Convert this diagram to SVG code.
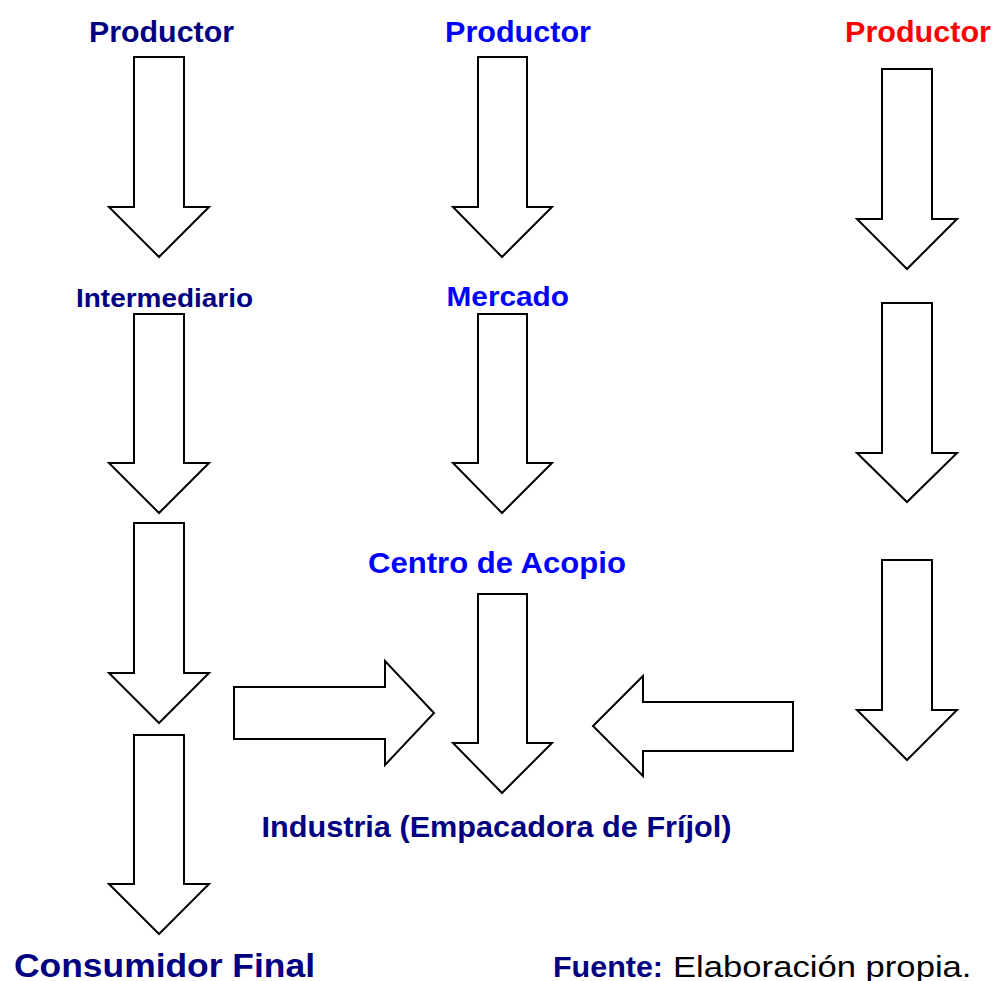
<svg xmlns="http://www.w3.org/2000/svg" width="994" height="981" viewBox="0 0 994 981">
  <style>
    .lbl { font-family: "Liberation Sans", Arial, sans-serif; font-weight: bold; }
    .navy { fill: #000080; }
    .blue { fill: #0000FF; }
    .red { fill: #FF0000; }
    .arrow { fill: #FFFFFF; stroke: #000000; stroke-width: 2; stroke-linejoin: miter; }
  </style>
  <rect width="994" height="981" fill="#FFFFFF"/>

  <g id="connectors">
    <!-- column 1 -->
    <polygon class="arrow" points="134,57 184,57 184,207 209,207 159,257 109,207 134,207"/>
    <polygon class="arrow" points="134,314 184,314 184,463 209,463 159,513 109,463 134,463"/>
    <polygon class="arrow" points="134,523 184,523 184,673 209,673 159,723 109,673 134,673"/>
    <polygon class="arrow" points="134,735 184,735 184,884 209,884 159,934 109,884 134,884"/>
    <!-- column 2 -->
    <polygon class="arrow" points="478,57 527,57 527,207 552,207 502,257 453,207 478,207"/>
    <polygon class="arrow" points="478,314 527,314 527,463 552,463 502,513 453,463 478,463"/>
    <polygon class="arrow" points="478,594 527,594 527,743 552,743 502,793 453,743 478,743"/>
    <!-- column 3 -->
    <polygon class="arrow" points="882,69 932,69 932,219 957,219 907,269 857,219 882,219"/>
    <polygon class="arrow" points="882,303 932,303 932,453 957,453 907,502 857,453 882,453"/>
    <polygon class="arrow" points="882,560 932,560 932,710 957,710 907,760 857,710 882,710"/>
    <!-- horizontal arrows -->
    <polygon class="arrow" points="234,687 385,687 385,661 434,713 385,765 385,739 234,739"/>
    <polygon class="arrow" points="793,702 643,702 643,676 593,726 643,776 643,751 793,751"/>
  </g>

  <g id="productor1">
    <text class="lbl navy" x="89" y="42" font-size="30" textLength="145" lengthAdjust="spacingAndGlyphs">Productor</text>
  </g>
  <g id="productor2">
    <text class="lbl blue" x="445" y="42" font-size="30" textLength="146" lengthAdjust="spacingAndGlyphs">Productor</text>
  </g>
  <g id="productor3">
    <text class="lbl red" x="845" y="42" font-size="30" textLength="146" lengthAdjust="spacingAndGlyphs">Productor</text>
  </g>
  <g id="intermediario">
    <text class="lbl navy" x="76" y="306.5" font-size="25.5" textLength="177" lengthAdjust="spacingAndGlyphs">Intermediario</text>
  </g>
  <g id="mercado">
    <text class="lbl blue" x="446.5" y="306" font-size="28" textLength="122.5" lengthAdjust="spacingAndGlyphs">Mercado</text>
  </g>
  <g id="centro-acopio">
    <text class="lbl blue" x="368" y="572.5" font-size="30" textLength="258" lengthAdjust="spacingAndGlyphs">Centro de Acopio</text>
  </g>
  <g id="industria">
    <text class="lbl navy" x="261.5" y="836.5" font-size="29" textLength="470" lengthAdjust="spacingAndGlyphs">Industria (Empacadora de Fríjol)</text>
  </g>
  <g id="consumidor-final">
    <text class="lbl navy" x="14" y="976.5" font-size="33.5" textLength="301" lengthAdjust="spacingAndGlyphs">Consumidor Final</text>
  </g>
  <g id="fuente">
    <text x="553" y="976.5" font-family="Liberation Sans, Arial, sans-serif" font-size="30"><tspan class="lbl navy" textLength="110" lengthAdjust="spacingAndGlyphs">Fuente:</tspan><tspan fill="#000000" x="673" textLength="298.5" lengthAdjust="spacingAndGlyphs">Elaboración propia.</tspan></text>
  </g>
</svg>
